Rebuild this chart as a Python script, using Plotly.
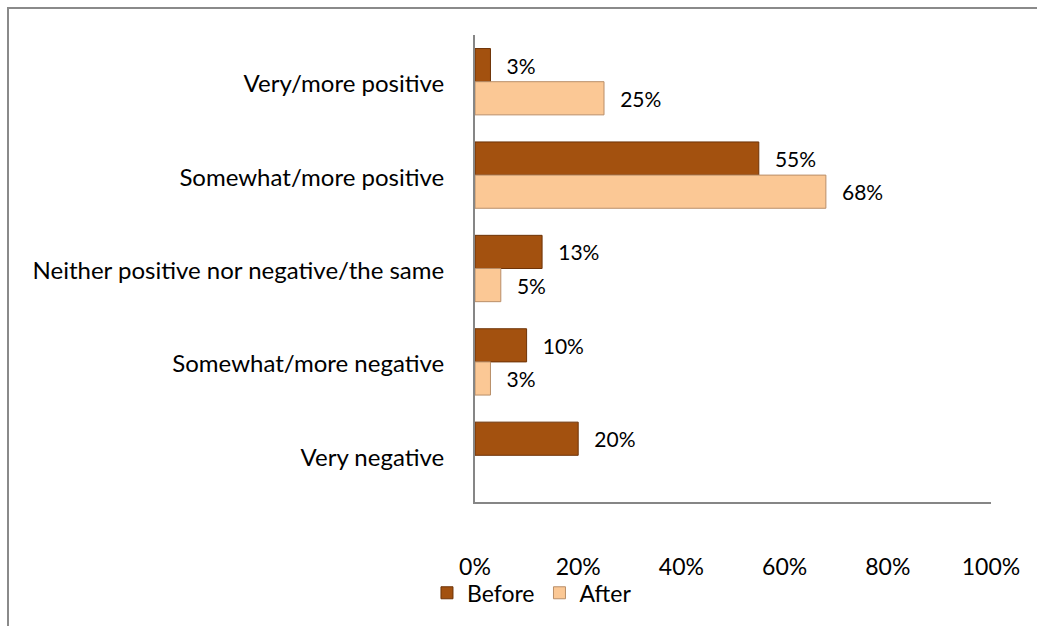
import plotly.graph_objects as go

categories = ["Very/more positive", "Somewhat/more positive",
              "Neither positive nor negative/the same",
              "Somewhat/more negative", "Very negative"]
before = [3, 55, 13, 10, 20]
after = [25, 68, 5, 3, None]
tick_vals = [0, 20, 40, 60, 80, 100]
tick_text = ["0%", "20%", "40%", "60%", "80%", "100%"]

FONT = "Lato, 'Open Sans', sans-serif"
PAD = "\u2002\u2009"

PLOT_T, PLOT_B = 35, 502
PLOT_L, PLOT_R = 475, 991
PH = PLOT_B - PLOT_T
PW = PLOT_R - PLOT_L

fig = go.Figure()
fig.add_trace(go.Bar(
    y=categories, x=before, name="Before", orientation="h",
    marker=dict(color="#A3510F", line=dict(color="#6E3307", width=1)),
    text=[f"{PAD}{v}%" for v in before], textposition="outside",
    textfont=dict(size=21, color="#000000", family=FONT), cliponaxis=False,
))
fig.add_trace(go.Bar(
    y=categories, x=after, name="After", orientation="h",
    marker=dict(color="#FBC895", line=dict(color="#B98E68", width=1)),
    text=[f"{PAD}{v}%" if v is not None else "" for v in after], textposition="outside",
    textfont=dict(size=21, color="#000000", family=FONT), cliponaxis=False,
))

fig.update_layout(
    width=1037, height=626,
    margin=dict(l=PLOT_L, r=1037 - PLOT_R, t=PLOT_T, b=626 - PLOT_B, autoexpand=False),
    paper_bgcolor="white", plot_bgcolor="white",
    barmode="group", bargap=0.29, bargroupgap=0,
    font=dict(family=FONT, size=23, color="#000000"),
    xaxis=dict(range=[0, 100], tickvals=tick_vals, ticktext=tick_text,
               showgrid=False, zeroline=False, showline=True,
               linecolor="#868686", linewidth=2, ticks="",
               ticklabelstandoff=43, tickfont=dict(size=23), automargin=False),
    yaxis=dict(autorange="reversed", showgrid=False, zeroline=False,
               showline=True, linecolor="#868686", linewidth=2, ticks="",
               ticklabelstandoff=24, ticklabelshift=-2,
               tickfont=dict(size=24), automargin=False),
    legend=dict(orientation="h", xref="container", yref="container",
                x=0.513, xanchor="center", y=0.053, yanchor="middle",
                bgcolor="rgba(0,0,0,0)",
                font=dict(size=23), itemwidth=30),
    showlegend=True,
)

# outer chart border (top and left visible)
fig.add_shape(type="rect", xref="paper", yref="paper",
              x0=-(PLOT_L - 8) / PW, x1=1 + 80 / PW,
              y0=-200 / PH, y1=1 + (PLOT_T - 8) / PH,
              line=dict(color="#8A8A8A", width=2), fillcolor="rgba(0,0,0,0)",
              layer="below")

fig.write_html("out.html", config={"displayModeBar": False},
               post_script="document.body.style.margin='0';")
